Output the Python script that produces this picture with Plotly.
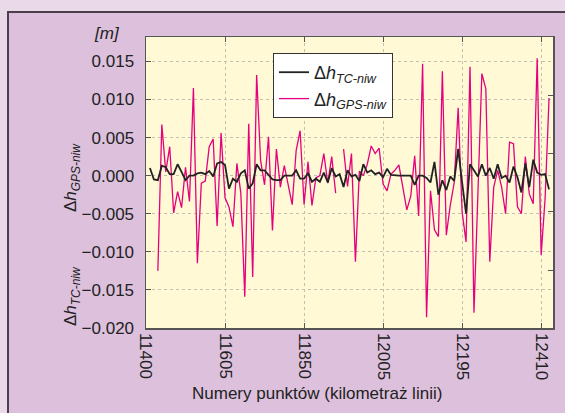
import plotly.graph_objects as go

# point index along the line (x axis is an index axis, labels are km-point numbers)
point_index = list(range(1, 103))

tick_positions = [0, 20, 40, 60, 80, 100]
tick_labels = ["11400", "11605", "11850", "12005", "12195", "12410"]

dh_tc_niw = [
    0.0010, -0.0005, -0.0006, 0.0013, 0.0011, 0.0002, 0.0002, 0.0015, 0.0005, -0.0006,
    0.0000, 0.0000, 0.0003, 0.0004, 0.0002, 0.0006, -0.0001, 0.0016, 0.0018, 0.0014,
    -0.0017, -0.0004, -0.0008, 0.0003, 0.0007, -0.0017, -0.0010, 0.0015, 0.0007, 0.0007,
    0.0001, -0.0005, -0.0006, -0.0006, 0.0000, 0.0000, 0.0000, 0.0007, -0.0004, -0.0004,
    0.0003, -0.0008, -0.0004, -0.0008, 0.0004, -0.0009, 0.0010, -0.0001, 0.0002, -0.0015,
    0.0007, -0.0001, 0.0001, -0.0007, 0.0015, 0.0004, 0.0007, 0.0002, 0.0004, -0.0002,
    0.0009, 0.0001, 0.0000, 0.0000, 0.0000, 0.0000, 0.0000, -0.0012, 0.0000, 0.0000,
    -0.0003, -0.0009, 0.0018, -0.0025, -0.0006, -0.0019, -0.0001, -0.0007, 0.0035, -0.0009,
    -0.0050, 0.0015, 0.0007, -0.0001, 0.0015, 0.0000, 0.0010, -0.0004, 0.0015, -0.0003,
    0.0000, -0.0009, 0.0012, -0.0002, -0.0022, 0.0016, -0.0015, 0.0021, 0.0004, 0.0001,
    0.0002, -0.0018,
]

dh_gps_niw = [
    None, None, -0.0125, 0.0067, 0.0005, 0.0038, -0.0049, -0.0021, -0.0042, 0.0011,
    -0.0034, 0.0115, -0.0115, -0.0010, -0.0007, 0.0038, 0.0048, -0.0066, 0.0056, -0.0029,
    -0.0041, -0.0067, 0.0016, -0.0023, -0.0159, 0.0068, -0.0133, 0.0132, 0.0020, -0.0012,
    0.0051, -0.0072, 0.0035, -0.0015, 0.0013, -0.0015, -0.0038, 0.0033, 0.0059, -0.0038,
    0.0018, -0.0039, -0.0003, 0.0000, 0.0029, -0.0010, 0.0025, -0.0023, None, 0.0035,
    -0.0014, 0.0029, -0.0113, 0.0006, 0.0000, 0.0015, 0.0039, 0.0029, 0.0036, -0.0011,
    -0.0020, 0.0002, 0.0007, 0.0014, -0.0015, -0.0045, -0.0027, 0.0026, -0.0053, 0.0147,
    -0.0186, -0.0020, -0.0071, -0.0080, 0.0137, -0.0078, -0.0039, -0.0009, 0.0089, -0.0048,
    -0.0087, 0.0143, -0.0180, -0.0022, 0.0134, 0.0114, -0.0113, -0.0015, 0.0007, -0.0015,
    -0.0050, 0.0044, 0.0042, -0.0041, -0.0050, 0.0025, -0.0024, -0.0037, 0.0154, -0.0104,
    -0.0030, 0.0102,
]

FONT = "Liberation Sans, Arial, Helvetica, sans-serif"
PINK = "#e5007d"
DARK = "#222222"
OUTER = "#e9d9e9"
PANEL = "#dcc0dc"
BORDER = "#4a3f4a"

# pixel geometry of plot area (for paper-coordinate helpers)
L, R, T, B = 146, 553, 37, 328
W, H = 565, 413
def px(x):
    return (x - L) / (R - L)
def py(y):
    return (B - y) / (B - T)

fig = go.Figure()
fig.add_trace(go.Scatter(
    x=point_index, y=dh_gps_niw, mode="lines",
    name="Δ<i>h</i><sub><i>GPS-niw</i></sub>",
    line=dict(color=PINK, width=1.3), connectgaps=False,
))
fig.add_trace(go.Scatter(
    x=point_index, y=dh_tc_niw, mode="lines",
    name="Δ<i>h</i><sub><i>TC-niw</i></sub>",
    line=dict(color=DARK, width=1.8),
))
# empty trace to show the right-hand tick axis
fig.add_trace(go.Scatter(x=[], y=[], yaxis="y2", showlegend=False, hoverinfo="skip"))

ann_font = dict(size=17, color=DARK)

fig.update_layout(
    template="none",
    width=W, height=H,
    margin=dict(l=L, r=W - R, t=T, b=H - B, pad=0, autoexpand=False),
    paper_bgcolor=PANEL,
    plot_bgcolor="#fff9d6",
    font=dict(family=FONT, size=17, color=DARK),
    showlegend=True,
    hovermode=False,
    legend=dict(
        x=px(273), y=py(53), xanchor="left", yanchor="top",
        bgcolor="#ffffff", bordercolor="#333333", borderwidth=1,
        traceorder="reversed", font=dict(size=18, color=DARK),
        tracegroupgap=0, itemwidth=30,
    ),
    xaxis=dict(
        automargin=False,
        range=[0, 103], tickmode="array", tickvals=tick_positions, ticktext=tick_labels,
        tickangle=90, ticks="inside", ticklen=5, tickcolor="#555555",
        showline=True, linecolor="#555555", linewidth=1.5, mirror="ticks",
        showgrid=True, gridcolor="#c4c0b0", griddash="dot", gridwidth=1,
        zeroline=False, tickfont=dict(size=17, color=DARK),
    ),
    yaxis=dict(
        automargin=False,
        range=[-0.020, 0.0182], tickmode="array",
        tickvals=[-0.020, -0.015, -0.010, -0.005, 0.0, 0.005, 0.010, 0.015],
        tickformat=".3f", ticks="inside", ticklen=5, tickcolor="#555555",
        showline=True, linecolor="#555555", linewidth=1.5, mirror=True,
        showgrid=True, gridcolor="#c4c0b0", griddash="dot", gridwidth=1,
        zeroline=False, tickfont=dict(size=17, color=DARK),
        ticklabelstandoff=7,
    ),
    yaxis2=dict(
        automargin=False,
        overlaying="y", side="right", range=[0, 5.017], tickmode="array",
        tickvals=[1, 2, 3, 4], showticklabels=False, ticks="inside", ticklen=5,
        tickcolor="#555555", showgrid=False, zeroline=False, showline=False,
    ),
    shapes=[
        # light outer strips (left and top), then the dark panel border
        dict(type="rect", xref="paper", yref="paper", layer="below",
             x0=px(-5), x1=px(7), y0=py(-5), y1=py(H + 5),
             fillcolor=OUTER, line=dict(width=0)),
        dict(type="rect", xref="paper", yref="paper", layer="below",
             x0=px(-5), x1=px(W + 5), y0=py(-5), y1=py(11),
             fillcolor=OUTER, line=dict(width=0)),
        dict(type="line", xref="paper", yref="paper", layer="below",
             x0=px(8), x1=px(8), y0=py(11), y1=py(H + 5),
             line=dict(color=BORDER, width=2)),
        dict(type="line", xref="paper", yref="paper", layer="below",
             x0=px(7), x1=px(W + 5), y0=py(12), y1=py(12),
             line=dict(color=BORDER, width=2)),
    ],
    annotations=[
        dict(text="<i>[m]</i>", xref="paper", yref="paper", x=px(107), y=py(33),
             xanchor="center", yanchor="middle", showarrow=False, font=ann_font),
        dict(text="Numery punktów (kilometraż linii)", xref="paper", yref="paper",
             x=px(317), y=py(393), xanchor="center", yanchor="middle",
             showarrow=False, font=ann_font),
        dict(text="Δ<i>h</i><sub><i>GPS-niw</i></sub>", xref="paper", yref="paper",
             x=px(72), y=py(178), xanchor="center", yanchor="middle",
             textangle=-90, showarrow=False, font=ann_font),
        dict(text="Δ<i>h</i><sub><i>TC-niw</i></sub>", xref="paper", yref="paper",
             x=px(72), y=py(296), xanchor="center", yanchor="middle",
             textangle=-90, showarrow=False, font=ann_font),
    ],
)

fig.write_html("out.html", config={"displayModeBar": False, "staticPlot": True},
               post_script="document.body.style.margin='0';")
